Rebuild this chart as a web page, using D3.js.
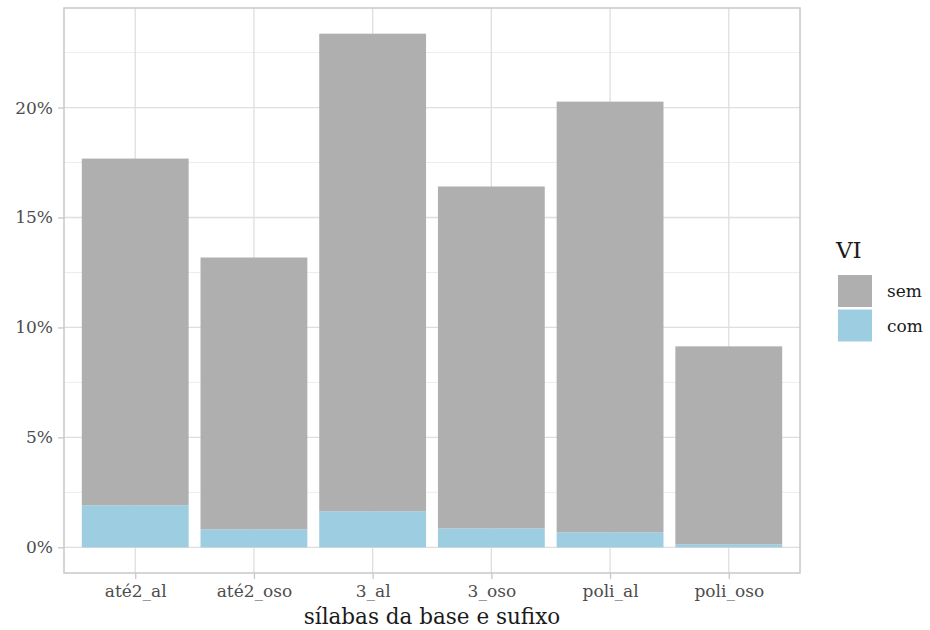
<!DOCTYPE html>
<html><head><meta charset="utf-8">
<script src="https://cdn.jsdelivr.net/npm/d3@7"></script>
<style>body{margin:0;background:#fff}</style>
</head><body>
<svg id="c" width="930" height="630"></svg>
<script>
const categories = ["até2_al","até2_oso","3_al","3_oso","poli_al","poli_oso"];
const comValues = [1.91, 0.82, 1.64, 0.86, 0.68, 0.14];
const semValues = [15.77, 12.36, 21.72, 15.55, 19.59, 9.00];
const seriesNames = ["sem","com"];
const seriesColors = ["#afafaf","#9ccde0"];
const yTicks = [0,5,10,15,20];

const font = "'DejaVu Serif', serif";
const svg = d3.select("#c");
const L=64, R=800, T=8, B=573;
const totals = categories.map((c,i)=>comValues[i]+semValues[i]);
const maxV = d3.max(totals);
const step = (R-L)/(categories.length+0.2);
const xc = d3.scalePoint().domain(categories).range([L+0.6*step, R-0.6*step]);
const bw = step*0.9;
const y = d3.scaleLinear().domain([-maxV*0.05, maxV*1.05]).range([B,T]);

const g = svg.append("g");
const minor = d3.range(2.5, maxV*1.05, 5);
g.selectAll(".mn").data(minor).join("line").attr("x1",L).attr("x2",R)
 .attr("y1",d=>y(d)).attr("y2",d=>y(d)).attr("stroke","#ededed").attr("stroke-width",1);
g.selectAll(".mj").data(yTicks).join("line").attr("x1",L).attr("x2",R)
 .attr("y1",d=>y(d)).attr("y2",d=>y(d)).attr("stroke","#dedede").attr("stroke-width",1.3);
g.selectAll(".vx").data(categories).join("line").attr("y1",T).attr("y2",B)
 .attr("x1",d=>xc(d)).attr("x2",d=>xc(d)).attr("stroke","#dedede").attr("stroke-width",1.3);

const stackData = categories.map((c,i)=>({cat:c, com:comValues[i], sem:semValues[i]}));
const stacked = d3.stack().keys(["com","sem"])(stackData);
const colorOf = {sem:seriesColors[0], com:seriesColors[1]};
stacked.forEach(s=>{
  g.selectAll(null).data(s).join("rect")
   .attr("x",d=>xc(d.data.cat)-bw/2).attr("width",bw)
   .attr("y",d=>y(d[1])).attr("height",d=>y(d[0])-y(d[1]))
   .attr("fill",colorOf[s.key]);
});

g.append("rect").attr("x",L).attr("y",T).attr("width",R-L).attr("height",B-T)
 .attr("fill","none").attr("stroke","#c8c8c8").attr("stroke-width",1.5);

const ya = svg.append("g").attr("transform",`translate(${L},0)`)
 .call(d3.axisLeft(y).tickValues(yTicks).tickFormat(d=>d+"%").tickSize(6).tickPadding(5));
ya.select(".domain").remove();
ya.selectAll(".tick line").attr("stroke","#c8c8c8").attr("stroke-width",1.3);
ya.selectAll(".tick text").attr("font-family",font).attr("font-size",17).attr("fill","#4d4d4d");

const xa = svg.append("g").attr("transform",`translate(0,${B})`)
 .call(d3.axisBottom(xc).tickSize(6).tickPadding(6));
xa.select(".domain").remove();
xa.selectAll(".tick line").attr("stroke","#c8c8c8").attr("stroke-width",1.3);
xa.selectAll(".tick text").attr("font-family",font).attr("font-size",17).attr("fill","#4d4d4d");

svg.append("text").attr("x",(L+R)/2).attr("y",624).attr("text-anchor","middle")
 .attr("font-family",font).attr("font-size",21.5).attr("fill","#1a1a1a").text("sílabas da base e sufixo");

const lg = svg.append("g");
lg.append("text").attr("x",836).attr("y",258).attr("font-family",font).attr("font-size",23)
 .attr("fill","#1a1a1a").text("VI");
seriesNames.forEach((n,i)=>{
  lg.append("rect").attr("x",838).attr("y",275+i*34.5).attr("width",34).attr("height",32)
   .attr("fill",seriesColors[i]);
  lg.append("text").attr("x",887).attr("y",297+i*34.5).attr("font-family",font).attr("font-size",17)
   .attr("fill","#1a1a1a").text(n);
});
</script>
</body></html>
